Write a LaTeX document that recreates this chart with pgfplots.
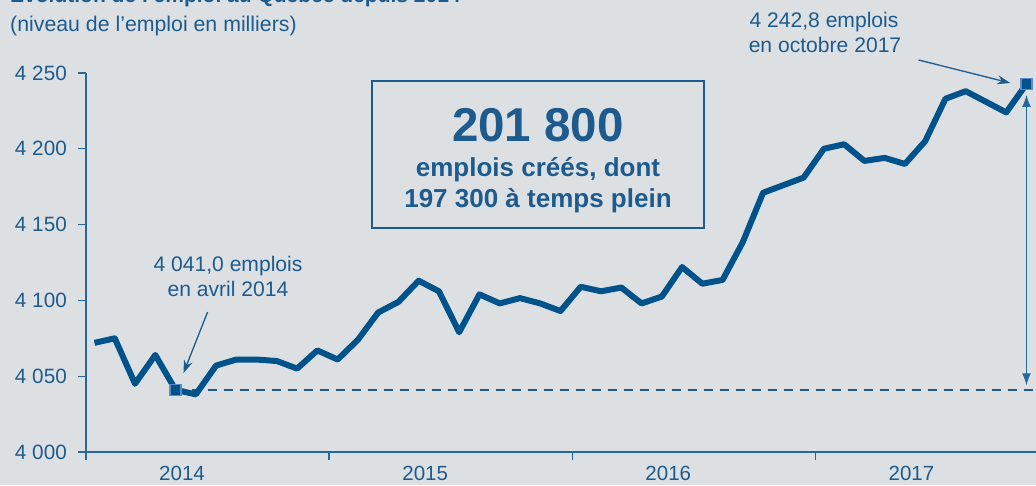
\documentclass[border=0pt]{standalone}
\usepackage{pgfplots}
\pgfplotsset{compat=1.18}
\usepackage{fontspec}
\setmainfont{Liberation Sans}
\usetikzlibrary{arrows.meta}
\definecolor{bg}{HTML}{DDE0E3}
\definecolor{serie}{HTML}{00538A}
\definecolor{txt}{HTML}{1D5B8E}
\definecolor{axc}{HTML}{2767A0}
\definecolor{mk}{HTML}{5B8ACB}
\pgfplotstableread{
x y
0 4072
1 4075
2 4045
3 4064
4 4041.0
5 4038
6 4057
7 4061
8 4061
9 4060
10 4055
11 4067
12 4061
13 4074
14 4092
15 4099
16 4113
17 4106
18 4079
19 4104
20 4098
21 4101.5
22 4098
23 4093
24 4109
25 4106
26 4108.5
27 4098
28 4102.5
29 4122
30 4111
31 4113.5
32 4138.5
33 4171
34 4176
35 4181
36 4200
37 4203
38 4192
39 4194
40 4190
41 4205
42 4233
43 4238
44 4231
45 4224
46 4242.8
}\emploi
\begin{document}
\begin{tikzpicture}[x=1pt,y=1pt]
\useasboundingbox (0,0) rectangle (1036,485);
\fill[bg] (0,0) rectangle (1036,485);
\node[anchor=base west, text=txt, font=\fontsize{21}{25}\selectfont\bfseries, inner sep=0pt] at (10,482) {Évolution de l’emploi au Québec depuis 2014};
\node[anchor=base west, text=txt, font=\fontsize{21.3}{25}\selectfont, inner sep=0pt] at (10,453) {(niveau de l’emploi en milliers)};
\begin{axis}[
  at={(86pt,33pt)}, anchor=south west,
  scale only axis, width=950pt, height=379pt,
  xmin=-0.42, xmax=46.47, ymin=4000, ymax=4250,
  axis lines*=left,
  axis line style={axc, line width=1.3pt},
  tick style={axc, line width=1.3pt},
  tick align=outside, major tick length=7.5pt,
  xtick={-0.42,11.58,23.58,35.58}, xticklabels={},
  extra x ticks={4.32,16.32,28.32,40.32},
  extra x tick labels={2014,2015,2016,2017},
  extra x tick style={major tick length=0pt},
  xticklabel style={anchor=base, inner sep=0pt, yshift=-28pt, text=txt, font=\fontsize{20.5}{24}\selectfont},
  ytick={4000,4050,4100,4150,4200,4250},
  yticklabels={4~000,4~050,4~100,4~150,4~200,4~250},
  yticklabel style={anchor=east, inner sep=0pt, xshift=-11.5pt, text=txt, font=\fontsize{20.7}{24}\selectfont},
  clip=false,
]
\draw[txt, line width=1.5pt, dash pattern=on 9pt off 7pt] (axis cs:4,4041) -- (axis cs:46.3,4041);
\addplot[serie, line width=6pt, line join=round, no marks] table[x=x,y=y] {\emploi};
\addplot[only marks, mark=square*, mark size=5.5pt, mark options={fill=serie, draw=mk, line width=1.5pt}] coordinates {(4,4041.0) (46,4242.8)};
\draw[axc, line width=1.3pt, {Latex[length=12pt,width=9pt]}-{Latex[length=12pt,width=9pt]}] (axis cs:46,4044) -- (axis cs:46,4235.5);
\draw[txt, line width=1.3pt, -{Stealth[length=13pt,width=9pt]}] (axis cs:5.58,4092.3) -- (axis cs:4.39,4052);
\draw[txt, line width=1.3pt, -{Stealth[length=13pt,width=9pt]}] (axis cs:40.67,4258.6) -- (axis cs:45.2,4243.4);
\end{axis}
\node[anchor=base, text=txt, font=\fontsize{21.1}{24}\selectfont, inner sep=0pt] at (228,213) {4~041,0 emplois};
\node[anchor=base, text=txt, font=\fontsize{21.1}{24}\selectfont, inner sep=0pt] at (228,188.5) {en avril 2014};
\node[anchor=base, text=txt, font=\fontsize{21.1}{24}\selectfont, inner sep=0pt] at (824,457) {4~242,8 emplois};
\node[anchor=base, text=txt, font=\fontsize{21.1}{24}\selectfont, inner sep=0pt] at (825,432) {en octobre 2017};
\draw[txt, line width=1.5pt] (372,404) rectangle (704,257);
\node[anchor=base, text=txt, font=\fontsize{47.5}{52}\selectfont\bfseries, inner sep=0pt] at (538,343) {201~800};
\node[anchor=base, text=txt, font=\fontsize{26}{30}\selectfont\bfseries, inner sep=0pt] at (538,308.3) {emplois créés, dont};
\node[anchor=base, text=txt, font=\fontsize{26}{30}\selectfont\bfseries, inner sep=0pt] at (538,277) {197~300 à temps plein};
\end{tikzpicture}
\end{document}
